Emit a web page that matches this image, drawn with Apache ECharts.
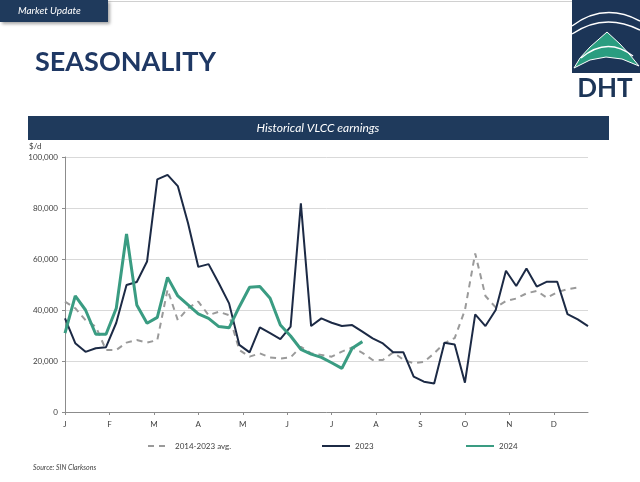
<!DOCTYPE html>
<html>
<head>
<meta charset="utf-8">
<script src="https://cdn.jsdelivr.net/npm/echarts@6/dist/echarts.min.js"></script>
<style>
  html, body { margin: 0; padding: 0; background: #fff; }
  #chart { width: 640px; height: 482px; }
</style>
</head>
<body>
<div id="chart"></div>
<script>
// month letters on the x axis, weekly data (52 weeks)
const months = ['J', 'F', 'M', 'A', 'M', 'J', 'J', 'A', 'S', 'O', 'N', 'D'];
const weeksPerMonth = 52 / 12;

// $/d, one value per week
const avg1423 = [
  43300, 40700, 36000, 33500, 24300, 24300, 27200, 28200, 27200, 28200,
  48000, 36000, 40700, 43300, 38000, 39300, 38000, 24300, 21700, 23000,
  21400, 21000, 21400, 25600, 23000, 22400, 21700, 23700, 25300, 23200,
  20400, 20400, 23400, 20500, 19100, 19700, 23000, 27000, 29000, 40000,
  62200, 45500, 41000, 43500, 44500, 46500, 47500, 44800, 47000, 48200,
  48800
];
const y2023 = [
  36700, 27000, 23600, 25000, 25400, 35000, 49800, 51000, 59000, 91200,
  93000, 88600, 74000, 56900, 58000, 50500, 42600, 26300, 23400, 33200,
  30900, 28600, 33500, 81800, 33700, 36700, 35000, 33700, 34100, 31500,
  28900, 26900, 23400, 23400, 13900, 11900, 11200, 27200, 26500, 11500,
  38300, 33700, 40000, 55400, 49400, 56300, 49200, 51100, 51100, 38400,
  36300, 33700
];
const y2024 = [
  30900, 45500, 40000, 30500, 30500, 40700, 69800, 42000, 34800, 37100,
  52800, 45500, 42000, 38500, 36700, 33500, 33000, 41300, 48900, 49200,
  44600, 34100, 29800, 24600, 22700, 21400, 19300, 17100, 25000, 27600
];

const navy = '#1f3a5c';
const lineNavy = '#1c2a45';
const teal = '#3a9c82';
const greyDash = '#9a9a9a';
const axisText = '#404040';

const toPts = arr => arr.map((v, i) => [i, v]);
const monthPos = months.map((m, i) => i * weeksPerMonth);

const legendText = { fontSize: 8, fontFamily: 'Lato', color: axisText };

const chart = echarts.init(document.getElementById('chart'));

chart.setOption({
  animation: false,
  backgroundColor: '#fff',
  grid: { left: 65, right: 52, top: 157, bottom: 70 },
  xAxis: {
    type: 'value',
    min: 0,
    max: 51,
    axisLine: { lineStyle: { color: '#8c8c8c', width: 1 } },
    axisTick: { show: true, length: 3, lineStyle: { color: '#8c8c8c' }, customValues: monthPos },
    axisLabel: {
      customValues: monthPos,
      margin: 8,
      fontSize: 8,
      fontFamily: 'Lato',
      color: axisText,
      formatter: v => months[Math.round(v / weeksPerMonth)]
    },
    splitLine: { show: false }
  },
  yAxis: {
    type: 'value',
    min: 0,
    max: 100000,
    interval: 20000,
    axisLine: { show: true, lineStyle: { color: '#8c8c8c', width: 1 } },
    axisTick: { show: true, length: 3, lineStyle: { color: '#8c8c8c' } },
    axisLabel: {
      margin: 7,
      fontSize: 8,
      fontFamily: 'Lato',
      color: axisText,
      formatter: v => v.toLocaleString('en-US')
    },
    splitLine: { lineStyle: { color: '#d9d9d9', width: 1 } }
  },
  legend: [
    { data: ['2014-2023 avg.'], left: 142, top: 437, itemWidth: 22, itemHeight: 8,
      itemStyle: { opacity: 0 }, textStyle: legendText },
    { data: ['2023'], left: 316, top: 437, itemWidth: 28, itemHeight: 8,
      itemStyle: { opacity: 0 }, textStyle: legendText },
    { data: ['2024'], left: 460, top: 437, itemWidth: 28, itemHeight: 8,
      itemStyle: { opacity: 0 }, textStyle: legendText }
  ],
  series: [
    {
      name: '2014-2023 avg.',
      type: 'line',
      data: toPts(avg1423),
      symbol: 'none',
      color: greyDash,
      lineStyle: { color: greyDash, width: 2, type: [6, 5] }
    },
    {
      name: '2023',
      type: 'line',
      data: toPts(y2023),
      symbol: 'none',
      color: lineNavy,
      lineStyle: { color: lineNavy, width: 2 }
    },
    {
      name: '2024',
      type: 'line',
      data: toPts(y2024),
      symbol: 'none',
      color: teal,
      lineStyle: { color: teal, width: 3 }
    }
  ],
  graphic: [
    // thin line along the top of the slide
    { type: 'line', shape: { x1: 108, y1: 1.5, x2: 572, y2: 1.5 }, style: { stroke: '#d0d0d0', lineWidth: 1 } },
    // "Market Update" tab
    { type: 'rect', shape: { x: 0, y: 0, width: 108, height: 22 },
      style: { fill: navy, shadowBlur: 3, shadowOffsetX: 2, shadowOffsetY: 2, shadowColor: 'rgba(0,0,0,0.35)' } },
    { type: 'text', x: 18, y: 11,
      style: { text: 'Market Update', fill: '#fff', font: 'italic 10px Lato', textVerticalAlign: 'middle' } },
    // page title
    { type: 'text', x: 35, y: 62,
      style: { text: 'SEASONALITY', fill: '#1f3864', font: 'bold 27px Lato', textVerticalAlign: 'middle' } },
    // DHT logo
    { type: 'rect', shape: { x: 572, y: 0, width: 68, height: 73 }, style: { fill: '#1c3557' } },
    { type: 'bezierCurve', shape: { x1: 572, y1: 26, cpx1: 604, cpy1: 2, x2: 640, y2: 21 },
      style: { fill: null, stroke: '#fff', lineWidth: 1.5 } },
    { type: 'bezierCurve', shape: { x1: 572, y1: 34, cpx1: 604, cpy1: 12, x2: 640, y2: 30 },
      style: { fill: null, stroke: '#fff', lineWidth: 1.5 } },
    { type: 'polygon',
      shape: { points: [[607, 32], [620, 44], [630, 55], [639, 66], [622, 59], [606, 57], [590, 60], [574, 68], [580, 58], [590, 47]] },
      style: { fill: '#2a9d80', stroke: '#fff', lineWidth: 1 } },
    { type: 'bezierCurve', shape: { x1: 581, y1: 58, cpx1: 607, cpy1: 36, x2: 633, y2: 56 },
      style: { fill: null, stroke: '#fff', lineWidth: 1.5 } },
    { type: 'text', x: 605, y: 89,
      style: { text: 'DHT', fill: '#1c3557', font: 'bold 26px Lato', textAlign: 'center', textVerticalAlign: 'middle' } },
    // chart title bar
    { type: 'rect', shape: { x: 28, y: 116, width: 581, height: 24 }, style: { fill: navy } },
    { type: 'text', x: 318, y: 128,
      style: { text: 'Historical VLCC earnings', fill: '#fff', font: 'italic 12px Lato', textAlign: 'center', textVerticalAlign: 'middle' } },
    // unit
    { type: 'text', x: 29, y: 146,
      style: { text: '$/d', fill: axisText, font: '8px Lato', textVerticalAlign: 'middle' } },
    // source
    { type: 'text', x: 33, y: 468,
      style: { text: 'Source: SIN Clarksons', fill: axisText, font: 'italic 7px Lato', textVerticalAlign: 'middle' } }
  ]
});
</script>
</body>
</html>
